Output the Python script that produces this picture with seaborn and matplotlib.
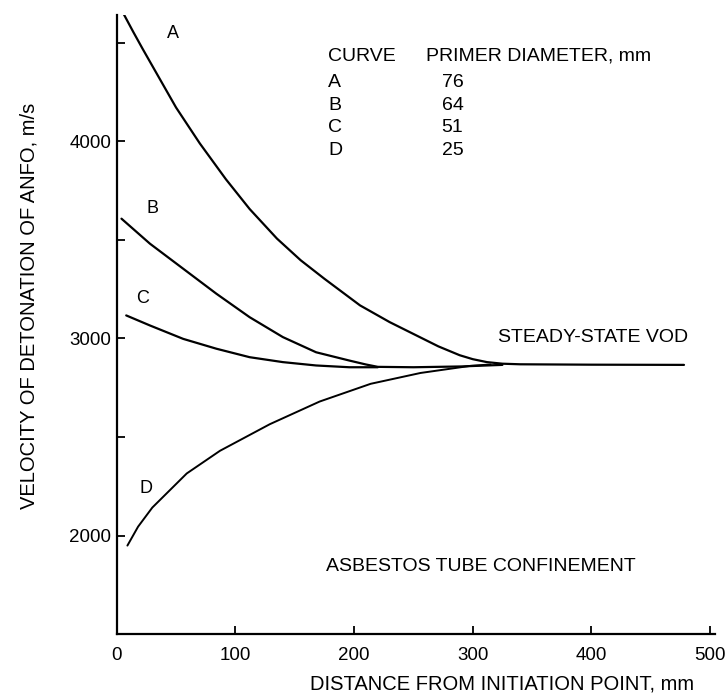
import matplotlib
matplotlib.use('Agg')
import matplotlib.pyplot as plt
import matplotlib.ticker as mticker
import seaborn as sns

# valeurs (distance en mm, vitesse en m/s)
a_x = [6, 14, 22, 36, 50, 70, 92, 112, 135, 155, 175, 205, 230, 253, 271, 289, 300, 312, 325, 340, 400, 478]
a_y = [4645, 4555, 4468, 4320, 4172, 3990, 3808, 3657, 3507, 3397, 3303, 3168, 3083, 3014, 2960, 2915, 2895, 2880, 2872, 2869, 2867, 2866]

b_x = [4, 28, 56, 84, 112, 140, 168, 196, 210, 220, 250, 290, 325]
b_y = [3608, 3481, 3354, 3227, 3108, 3007, 2930, 2888, 2868, 2856, 2854, 2858, 2866]

c_x = [8, 28, 56, 84, 112, 140, 168, 196, 220]
c_y = [3117, 3066, 2998, 2948, 2905, 2880, 2863, 2854, 2854]

d_x = [9, 18, 30, 59, 87, 129, 171, 214, 256, 298, 315]
d_y = [1949, 2045, 2142, 2315, 2430, 2565, 2680, 2770, 2825, 2861, 2868]

curve_names = ['A', 'B', 'C', 'D']
primer_diam = ['76', '64', '51', '25']

sns.set_style('ticks')
plt.rcParams['font.family'] = ['Liberation Sans', 'DejaVu Sans']
plt.rcParams['text.color'] = 'black'
plt.rcParams['axes.labelcolor'] = 'black'
plt.rcParams['xtick.color'] = 'black'
plt.rcParams['ytick.color'] = 'black'

fig = plt.figure(figsize=(7.25, 6.96), dpi=100)
ax = fig.add_axes([0.161, 0.089, 0.825, 0.889])

for xs, ys, lw in [(a_x, a_y, 1.6), (b_x, b_y, 1.6), (c_x, c_y, 1.6), (d_x, d_y, 1.4)]:
    sns.lineplot(x=xs, y=ys, color='black', linewidth=lw, sort=False, estimator=None, ax=ax)

ax.set_xlim(0, 504)
ax.set_ylim(1500, 4640)
ax.xaxis.set_major_locator(mticker.MultipleLocator(100))
ax.yaxis.set_major_locator(mticker.FixedLocator([2000, 3000, 4000]))
ax.yaxis.set_minor_locator(mticker.FixedLocator([2500, 3500, 4500]))
ax.tick_params(axis='both', which='both', direction='in', length=6, width=1.3, labelsize=13.5)
ax.tick_params(axis='x', pad=9)
ax.tick_params(axis='y', pad=4)

sns.despine(ax=ax)
for s in ['left', 'bottom']:
    ax.spines[s].set_linewidth(1.6)
    ax.spines[s].set_color('black')

ax.set_xlabel('DISTANCE FROM INITIATION POINT, mm', fontsize=14.5)
ax.set_ylabel('VELOCITY OF DETONATION OF ANFO, m/s', fontsize=14.5)
ax.xaxis.set_label_coords(0.644, -0.066)
ax.yaxis.set_label_coords(-0.131, 0.531)

# lettres des courbes
ax.text(47, 4548, 'A', fontsize=13, ha='center', va='center')
ax.text(30, 3660, 'B', fontsize=13, ha='center', va='center')
ax.text(22, 3203, 'C', fontsize=13, ha='center', va='center')
ax.text(25, 2239, 'D', fontsize=13, ha='center', va='center')

# tableau des diametres
ax.text(178, 4431, 'CURVE', fontsize=14, ha='left', va='center')
ax.text(261, 4431, 'PRIMER DIAMETER, mm', fontsize=14, ha='left', va='center')
rows_y = [4300, 4183, 4071, 3954]
for name, diam, ry in zip(curve_names, primer_diam, rows_y):
    ax.text(178, ry, name, fontsize=14, ha='left', va='center')
    ax.text(283, ry, diam, fontsize=14, ha='center', va='center')

ax.text(321, 3005, 'STEADY-STATE VOD', fontsize=14, ha='left', va='center')
ax.text(307, 1843, 'ASBESTOS TUBE CONFINEMENT', fontsize=14, ha='center', va='center')

plt.savefig('out.png', dpi=100)
